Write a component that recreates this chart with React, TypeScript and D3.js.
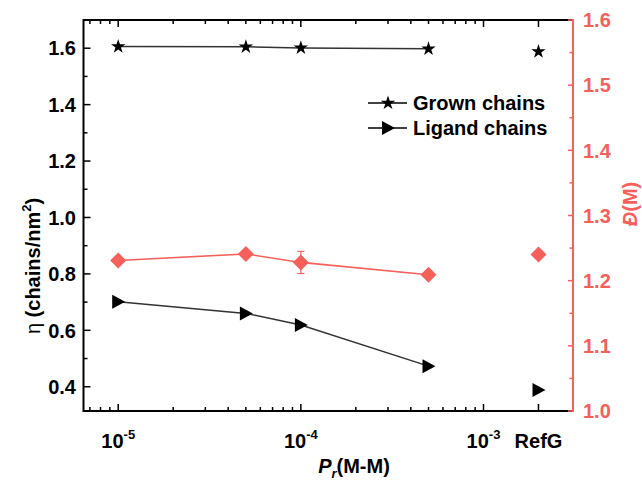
import React from "react";
import * as d3 from "d3";

const xVals = [1e-5, 5e-5, 1e-4, 5e-4];
const refX = 2e-3;
const grown = [1.606, 1.605, 1.601, 1.598];
const grownRef = 1.588;
const ligand = [0.701, 0.66, 0.619, 0.473];
const ligandRef = 0.388;
const dispersity = [1.231, 1.241, 1.228, 1.209];
const dispErr = [0, 0, 0.017, 0];
const dispRef = 1.24;

const leftTicks = [0.4, 0.6, 0.8, 1.0, 1.2, 1.4, 1.6];
const leftMinor = [0.5, 0.7, 0.9, 1.1, 1.3, 1.5, 1.7];
const rightTicks = [1.0, 1.1, 1.2, 1.3, 1.4, 1.5, 1.6];
const rightMinor = [1.05, 1.15, 1.25, 1.35, 1.45, 1.55];
const xMajor = [1e-5, 1e-4, 1e-3];
const xMinor = [7e-6, 8e-6, 9e-6, 2e-5, 3e-5, 4e-5, 5e-5, 6e-5, 7e-5, 8e-5, 9e-5, 2e-4, 3e-4, 4e-4, 5e-4, 6e-4, 7e-4, 8e-4, 9e-4];
const xExp = ["-5", "-4", "-3"];
const refLabel = "RefG";
const legendLabels = ["Grown chains", "Ligand chains"];

const L = 83.5, R = 573, T = 20, B = 411;
const RED = "#f5605a";
const FONT = "'Liberation Sans', Arial, sans-serif";

export default function App() {
  const x = d3.scaleLog().domain([Math.pow(10, -5.19), Math.pow(10, -2.51)]).range([L, R]);
  const yL = d3.scaleLinear().domain([0.314, 1.7]).range([B, T]);
  const yR = d3.scaleLinear().domain([1.0, 1.6]).range([B, T]);
  const fmt = d3.format(".1f");

  const line = d3.line<[number, number]>().x((d) => d[0]).y((d) => d[1]);
  const grownPts = xVals.map((v, i) => [x(v), yL(grown[i])] as [number, number]);
  const ligPts = xVals.map((v, i) => [x(v), yL(ligand[i])] as [number, number]);
  const dispPts = xVals.map((v, i) => [x(v), yR(dispersity[i])] as [number, number]);

  const star = d3.symbol().type(d3.symbolStar).size(64)()!;
  const tri = "M-6,-7L7,0L-6,7Z";
  const diamond = "M0,-8L8,0L0,8L-8,0Z";

  return (
    <svg width={642} height={481} style={{ position: "absolute", left: 0, top: 0, background: "#fff" }} fontFamily={FONT}>
      {/* lines */}
      <path d={line(dispPts)!} fill="none" stroke={RED} strokeWidth={1.6} />
      <path d={line(grownPts)!} fill="none" stroke="#333" strokeWidth={1.5} />
      <path d={line(ligPts)!} fill="none" stroke="#333" strokeWidth={1.5} />

      {/* error bars */}
      {xVals.map((v, i) =>
        dispErr[i] > 0 ? (
          <g key={"e" + i} stroke={RED} strokeWidth={1.2}>
            <line x1={x(v)} x2={x(v)} y1={yR(dispersity[i] - dispErr[i])} y2={yR(dispersity[i] + dispErr[i])} />
            <line x1={x(v) - 3.5} x2={x(v) + 3.5} y1={yR(dispersity[i] - dispErr[i])} y2={yR(dispersity[i] - dispErr[i])} />
            <line x1={x(v) - 3.5} x2={x(v) + 3.5} y1={yR(dispersity[i] + dispErr[i])} y2={yR(dispersity[i] + dispErr[i])} />
          </g>
        ) : null
      )}

      {/* markers */}
      {dispPts.map((p, i) => (
        <path key={"d" + i} d={diamond} transform={`translate(${p[0]},${p[1]})`} fill={RED} />
      ))}
      <path d={diamond} transform={`translate(${x(refX)},${yR(dispRef)})`} fill={RED} />
      {grownPts.map((p, i) => (
        <path key={"s" + i} d={star} transform={`translate(${p[0]},${p[1]})`} fill="#000" />
      ))}
      <path d={star} transform={`translate(${x(refX)},${yL(grownRef)})`} fill="#000" />
      {ligPts.map((p, i) => (
        <path key={"t" + i} d={tri} transform={`translate(${p[0]},${p[1]})`} fill="#000" />
      ))}
      <path d={tri} transform={`translate(${x(refX)},${yL(ligandRef)})`} fill="#000" />

      {/* frame */}
      <line x1={L} x2={R} y1={T} y2={T} stroke="#000" strokeWidth={2} />
      <line x1={L} x2={R} y1={B} y2={B} stroke="#000" strokeWidth={2} />
      <line x1={L} x2={L} y1={T - 1} y2={B + 1} stroke="#000" strokeWidth={2} />

      {/* x ticks */}
      {[...xMajor, refX].map((v, i) => (
        <g key={"xm" + i} stroke="#000" strokeWidth={1.5}>
          <line x1={x(v)} x2={x(v)} y1={B} y2={B - 7} />
          <line x1={x(v)} x2={x(v)} y1={T} y2={T + 7} />
        </g>
      ))}
      {xMinor.map((v, i) => (
        <g key={"xn" + i} stroke="#000" strokeWidth={1.5}>
          <line x1={x(v)} x2={x(v)} y1={B} y2={B - 4} />
          <line x1={x(v)} x2={x(v)} y1={T} y2={T + 4} />
        </g>
      ))}
      {xMajor.map((v, i) => (
        <text key={"xl" + i} x={x(v)} y={448} textAnchor="middle" fontSize={20} fontWeight="bold">
          10<tspan fontSize={13} dy={-9}>{xExp[i]}</tspan>
        </text>
      ))}
      <text x={x(refX)} y={448} textAnchor="middle" fontSize={20} fontWeight="bold">{refLabel}</text>

      {/* left ticks */}
      {leftTicks.map((v, i) => (
        <g key={"ly" + i}>
          <line x1={L} x2={L + 7} y1={yL(v)} y2={yL(v)} stroke="#000" strokeWidth={1.5} />
          <text x={76} y={yL(v)} dy="0.36em" textAnchor="end" fontSize={20} fontWeight="bold">{fmt(v)}</text>
        </g>
      ))}
      {leftMinor.map((v, i) => (
        <line key={"lm" + i} x1={L} x2={L + 4} y1={yL(v)} y2={yL(v)} stroke="#000" strokeWidth={1.5} />
      ))}

      {/* right axis */}
      <line x1={R} x2={R} y1={T - 1} y2={B + 1} stroke={RED} strokeWidth={2} />
      {rightTicks.map((v, i) => (
        <g key={"ry" + i}>
          <line x1={R} x2={R - 5} y1={yR(v)} y2={yR(v)} stroke={RED} strokeWidth={1.5} />
          <text x={583} y={yR(v)} dy="0.36em" textAnchor="start" fontSize={20} fontWeight="bold" fill={RED}>{fmt(v)}</text>
        </g>
      ))}
      {rightMinor.map((v, i) => (
        <line key={"rm" + i} x1={R} x2={R - 3.5} y1={yR(v)} y2={yR(v)} stroke={RED} strokeWidth={1.5} />
      ))}

      {/* titles */}
      <text transform="translate(40,266) rotate(-90)" textAnchor="middle" fontSize={20}>
        <tspan fontWeight="normal">η </tspan>
        <tspan fontWeight="bold">(chains/nm</tspan>
        <tspan fontWeight="bold" fontSize={13} dy={-9}>2</tspan>
        <tspan fontWeight="bold" dy={9}>)</tspan>
      </text>
      <text transform="translate(637,204) rotate(-90)" textAnchor="middle" fontSize={20} fontWeight="bold" fill={RED}>
        <tspan fontStyle="italic">Đ</tspan>(M)
      </text>
      <text x={354} y={473} textAnchor="middle" fontSize={20} fontWeight="bold">
        <tspan fontStyle="italic">P</tspan>
        <tspan fontStyle="italic" fontSize={13} dy={5}>r</tspan>
        <tspan dy={-5}>(M-M)</tspan>
      </text>

      {/* legend */}
      {legendLabels.map((lab, i) => {
        const cy = 103 + i * 25;
        return (
          <g key={"lg" + i}>
            <line x1={368} x2={407} y1={cy} y2={cy} stroke="#000" strokeWidth={1.4} />
            <path d={i === 0 ? star : tri} transform={`translate(388,${cy})`} fill="#000" />
            <text x={413} y={cy} dy="0.36em" fontSize={20} fontWeight="bold">{lab}</text>
          </g>
        );
      })}
    </svg>
  );
}
